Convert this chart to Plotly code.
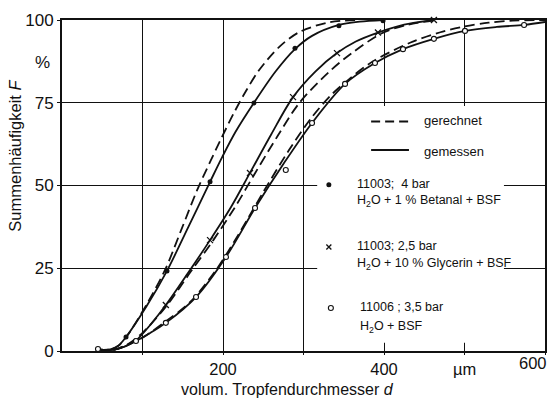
import plotly.graph_objects as go

# ---------------- data ----------------
# Series 1: 11003; 4 bar, H2O + 1 % Betanal + BSF
s1_meas_x = [79.5, 130.4, 183.9, 238.5, 289.4, 344.0, 398.8]
s1_meas_y = [4.2, 24.2, 51.1, 74.9, 91.5, 98.3, 99.8]
s1_line_x = [45, 60, 70, 79.5, 105, 130.4, 157, 183.9, 198.8, 215.8, 238.5, 265.5, 289.4, 310.6, 344, 370, 398.8]
s1_line_y = [0.4, 0.5, 1.6, 4.2, 13.5, 24.2, 37.5, 51.1, 58.5, 66.3, 75.0, 84.5, 91.2, 95.2, 98.5, 99.5, 100]
s1_calc_x = [45, 60, 70, 80, 105, 128, 148, 167.7, 184.7, 197, 213.7, 228, 244.7, 269.6, 294.4, 331.7, 369]
s1_calc_y = [0.4, 0.5, 1.6, 4.3, 14.0, 24.5, 36.5, 48.5, 57.5, 63.8, 72.0, 78.3, 84.8, 91.8, 96.3, 99.3, 100]

# Series 2: 11003; 2,5 bar, H2O + 10 % Glycerin + BSF
s2_meas_x = [129.0, 183.9, 233.5, 287.0, 341.6, 392.5, 462.0]
s2_meas_y = [13.9, 33.5, 53.8, 76.7, 90.0, 96.2, 100.0]
s2_line_x = [45, 65, 80, 92, 110, 129, 155, 183.9, 210, 233.5, 260, 287, 315, 341.6, 365, 392.5, 425, 462]
s2_line_y = [0.4, 0.4, 1.5, 3.2, 8.0, 13.9, 23.0, 33.5, 43.5, 53.8, 65.5, 76.7, 84.5, 90.0, 93.5, 96.2, 98.6, 100]
s2_calc_x = [45, 65, 80, 100, 131, 160, 188, 215, 240, 268, 295, 332, 360, 397.5, 430, 466]
s2_calc_y = [0.4, 0.4, 1.8, 5.5, 14.0, 24.0, 33.5, 43.5, 53.8, 65.0, 75.0, 84.4, 90.0, 96.0, 98.6, 100]

# Series 3: 11006; 3,5 bar, H2O + BSF
s3_meas_x = [44.7, 91.9, 129.0, 166.5, 203.7, 239.8, 278.0, 310.6, 351.6, 388.8, 423.6, 462.0, 500.6, 574.0]
s3_meas_y = [0.6, 3.0, 8.5, 16.3, 28.4, 43.2, 54.7, 68.9, 80.7, 87.0, 91.2, 94.3, 96.7, 98.5]
s3_line_x = [45, 65, 80, 92, 110, 129, 166.5, 203.7, 239.8, 275, 310.6, 351.6, 388.8, 423.6, 462, 500.6, 540, 574, 600]
s3_line_y = [0.4, 0.4, 1.6, 3.0, 5.5, 8.5, 16.3, 28.4, 43.2, 56.5, 68.9, 80.7, 87.0, 91.2, 94.3, 96.7, 97.9, 98.5, 99.4]
s3_calc_x = [45, 65, 80, 100, 129, 158, 190, 220, 250, 282, 310, 335, 356, 385.5, 433, 470, 499, 530, 560, 600]
s3_calc_y = [0.4, 0.4, 1.8, 4.0, 9.0, 14.5, 24.0, 35.5, 48.0, 60.7, 70.5, 77.5, 82.0, 87.4, 93.2, 96.3, 98.0, 99.2, 99.8, 100]

x_tickvals = [100, 200, 300, 400, 500, 600]
x_ticktext = ["", "200", "", "400", "µm", ""]
y_tickvals = [0, 25, 50, 75, 100]
y_ticktext = ["0", "25", "50", "75", "100"]

legend_line1 = "gerechnet"
legend_line2 = "gemessen"
legend_s1 = ["11003;  4 bar", "H<sub>2</sub>O + 1 % Betanal + BSF"]
legend_s2 = ["11003; 2,5 bar", "H<sub>2</sub>O + 10 % Glycerin + BSF"]
legend_s3 = ["11006 ; 3,5 bar", "H<sub>2</sub>O + BSF"]

# ---------------- figure ----------------
FONT = "Liberation Sans"
INK = "#111111"
DASH = "10px,5px"

fig = go.Figure()

def add_curve(x, y, dash):
    fig.add_trace(go.Scatter(x=x, y=y, mode="lines",
                             line=dict(color=INK, width=1.8, dash=dash, shape="spline", smoothing=0.9),
                             hoverinfo="skip", showlegend=False, cliponaxis=False))

for cx, cy in [(s1_calc_x, s1_calc_y), (s2_calc_x, s2_calc_y), (s3_calc_x, s3_calc_y)]:
    add_curve(cx, cy, DASH)
for lx, ly in [(s1_line_x, s1_line_y), (s2_line_x, s2_line_y), (s3_line_x, s3_line_y)]:
    add_curve(lx, ly, "solid")

fig.add_trace(go.Scatter(x=s1_meas_x, y=s1_meas_y, mode="markers",
                         marker=dict(symbol="circle", size=5, color=INK),
                         showlegend=False, cliponaxis=False))
fig.add_trace(go.Scatter(x=s2_meas_x, y=s2_meas_y, mode="markers",
                         marker=dict(symbol="x-thin", size=6, line=dict(color=INK, width=1.3)),
                         showlegend=False, cliponaxis=False))
fig.add_trace(go.Scatter(x=s3_meas_x, y=s3_meas_y, mode="markers",
                         marker=dict(symbol="circle", size=5, color="white", line=dict(color=INK, width=1.1)),
                         showlegend=False, cliponaxis=False))

# white legend box covering the grid
fig.add_shape(type="rect", xref="x", yref="y", x0=317, x1=549, y0=2.5, y1=74,
              fillcolor="white", line=dict(width=0), layer="between")

# legend line samples
fig.add_shape(type="line", xref="x", yref="y", x0=384, x1=431, y0=69.3, y1=69.3,
              line=dict(color=INK, width=2, dash="9px,5px"))
fig.add_shape(type="line", xref="x", yref="y", x0=384, x1=431, y0=60.7, y1=60.7,
              line=dict(color=INK, width=2))
# legend markers
fig.add_trace(go.Scatter(x=[331.5], y=[50.2], mode="markers",
                         marker=dict(symbol="circle", size=5, color=INK), showlegend=False))
fig.add_trace(go.Scatter(x=[331.5], y=[31.4], mode="markers",
                         marker=dict(symbol="x-thin", size=5, line=dict(color=INK, width=1.3)), showlegend=False))
fig.add_trace(go.Scatter(x=[334], y=[13], mode="markers",
                         marker=dict(symbol="circle", size=5, color="white", line=dict(color=INK, width=1.1)),
                         showlegend=False))

ann = []
def txt(x, y, s, size=12.5, anchor="left", **kw):
    ann.append(dict(x=x, y=y, xref="x", yref="y", text=s, showarrow=False,
                    xanchor=anchor, yanchor="middle", font=dict(family=FONT, size=size, color=INK), **kw))

txt(447, 69.5, legend_line1, size=13)
txt(447, 60.4, legend_line2, size=13)
txt(364, 50.6, legend_s1[0])
txt(364, 45.3, legend_s1[1])
txt(364, 31.8, legend_s2[0])
txt(364, 26.2, legend_s2[1])
txt(368, 13.4, legend_s3[0])
txt(368, 7.4, legend_s3[1])

# axis titles and extras
ann.append(dict(x=0, y=59, xref="paper", yref="y", xshift=-47, text="Summenhäufigkeit <i>F</i>",
                textangle=-90, showarrow=False, xanchor="center", yanchor="middle",
                font=dict(family=FONT, size=16.5, color=INK)))
ann.append(dict(x=0, y=87.3, xref="paper", yref="y", xshift=-20, text="%", showarrow=False,
                xanchor="center", yanchor="middle", font=dict(family=FONT, size=17, color=INK)))
ann.append(dict(x=279.5, y=0, xref="x", yref="paper", yshift=-38, text="volum. Tropfendurchmesser <i>d</i>",
                showarrow=False, xanchor="center", yanchor="middle", font=dict(family=FONT, size=16, color=INK)))
ann.append(dict(x=600, y=0, xref="x", yref="paper", xshift=4, yshift=-1, text="600", showarrow=False,
                xanchor="right", yanchor="top", font=dict(family=FONT, size=16.5, color=INK)))

fig.update_layout(
    width=553, height=398,
    margin=dict(l=62, r=6, t=20, b=47),
    paper_bgcolor="white", plot_bgcolor="white",
    annotations=ann,
    showlegend=False,
    xaxis=dict(range=[0, 600], tickvals=x_tickvals, ticktext=x_ticktext,
               showgrid=True, gridcolor=INK, gridwidth=1,
               showline=True, linecolor=INK, linewidth=1.8, mirror=True,
               ticks="outside", ticklen=2, tickcolor=INK, zeroline=False,
               tickfont=dict(family=FONT, size=16.5, color=INK)),
    yaxis=dict(range=[0, 100], tickvals=y_tickvals, ticktext=y_ticktext,
               showgrid=True, gridcolor=INK, gridwidth=1,
               showline=True, linecolor=INK, linewidth=1.8, mirror=True,
               ticks="outside", ticklen=3, tickcolor=INK, zeroline=False,
               tickfont=dict(family=FONT, size=17, color=INK)),
)

fig.write_html("out.html")
